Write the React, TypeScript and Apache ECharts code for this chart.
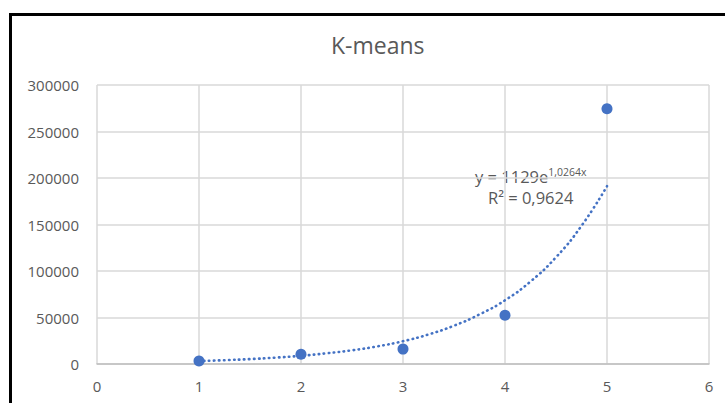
import React, { useEffect, useRef } from "react";
import * as echarts from "echarts";

const title = "K-means";
const clusters = [1, 2, 3, 4, 5];
const values = [3300, 10500, 16000, 52500, 274500];
// trendline samples
const trendX = [1, 1.25, 1.5, 1.75, 2, 2.25, 2.5, 2.75, 3, 3.25, 3.5, 3.75, 4, 4.25, 4.5, 4.75, 5];
const trendY = [3150, 4090, 5300, 6870, 8800, 11500, 14700, 19000, 24500, 31800, 41200, 53300, 68500, 88700, 114800, 148600, 191200];
const eqBase = "y = 1129e";
const eqExp = "1,0264x";
const r2Text = "R² = 0,9624";

const BLUE = "#4472C4";
const TXT = "#595959";
const FONT = "'Open Sans', sans-serif";

export default function App() {
  const ref = useRef<HTMLDivElement>(null);
  useEffect(() => {
    if (!ref.current) return;
    const chart = echarts.init(ref.current, undefined, { renderer: "svg" });
    chart.setOption({
      animation: false,
      backgroundColor: "#ffffff",
      title: {
        text: title,
        left: 326,
        top: 28,
        textStyle: { color: TXT, fontFamily: FONT, fontSize: 23, fontWeight: "normal" },
      },
      grid: { left: 97, right: 16, top: 85, bottom: 39 },
      xAxis: {
        type: "value",
        min: 0,
        max: 6,
        interval: 1,
        axisLine: { show: true, onZero: false, lineStyle: { color: "#bfbfbf", width: 1.5 } },
        axisTick: { show: false },
        splitLine: { show: true, lineStyle: { color: "#d9d9d9", width: 1.5 } },
        axisLabel: { color: TXT, fontFamily: FONT, fontSize: 15, margin: 14 },
      },
      yAxis: {
        type: "value",
        min: 0,
        max: 300000,
        interval: 50000,
        axisLine: { show: false },
        axisTick: { show: false },
        splitLine: { show: true, lineStyle: { color: "#d9d9d9", width: 1.5 } },
        axisLabel: { color: TXT, fontFamily: FONT, fontSize: 15, margin: 18, formatter: (v: number) => String(v) },
      },
      series: [
        {
          type: "scatter",
          data: clusters.map((c, i) => [c, values[i]]),
          symbol: "circle",
          symbolSize: 11,
          itemStyle: { color: BLUE, opacity: 1 },
          z: 2,
        },
        {
          type: "line",
          data: trendX.map((x, i) => [x, trendY[i]]),
          smooth: true,
          showSymbol: false,
          symbol: "none",
          lineStyle: { color: BLUE, width: 2.6, type: [0.5, 4.5], cap: "round" },
          z: 3,
        },
      ],
      graphic: [
        {
          type: "rect",
          shape: { x: 10.5, y: 14.5, width: 800, height: 500 },
          style: { fill: "none", stroke: "#000000", lineWidth: 3 },
          silent: true,
        },
        {
          type: "text",
          x: 475,
          y: 166,
          style: {
            text: "{b|" + eqBase + "}{s|" + eqExp + "}",
            rich: {
              b: { fontFamily: FONT, fontSize: 16.5, fill: TXT, color: TXT, lineHeight: 20 },
              s: { fontFamily: FONT, fontSize: 10.5, fill: TXT, color: TXT, verticalAlign: "top", lineHeight: 20, padding: [0, 0, 7, 0] },
            },
          },
        },
        {
          type: "text",
          x: 488,
          y: 189,
          style: { text: r2Text, fontFamily: FONT, fontSize: 16.5, fill: TXT },
        },
      ],
    });
    return () => chart.dispose();
  }, []);
  return <div ref={ref} style={{ position: "absolute", left: 0, top: 0, width: 725, height: 403 }} />;
}
